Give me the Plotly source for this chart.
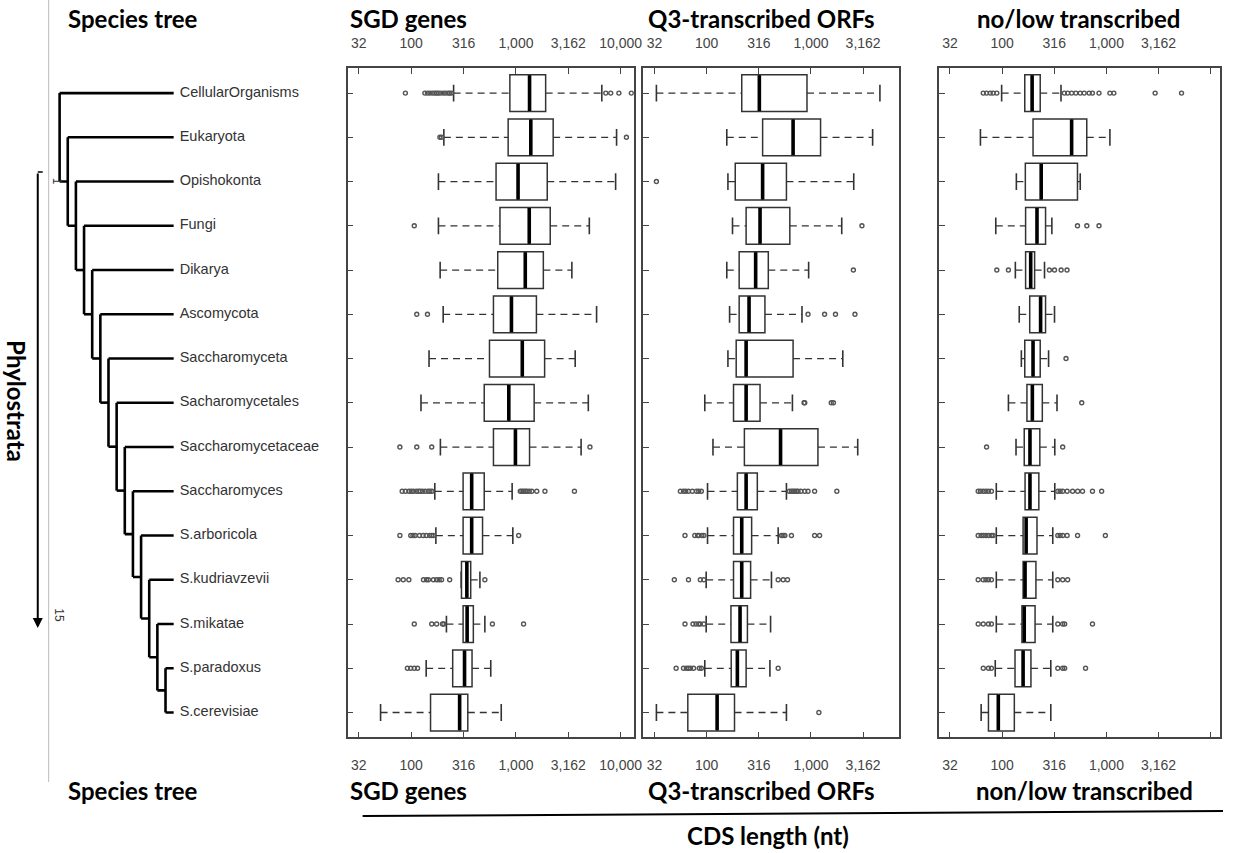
import plotly.graph_objects as go

# ---------------- data ----------------
species = ["CellularOrganisms", "Eukaryota", "Opishokonta", "Fungi", "Dikarya",
           "Ascomycota", "Saccharomyceta", "Sacharomycetales", "Saccharomycetaceae",
           "Saccharomyces", "S.arboricola", "S.kudriavzevii", "S.mikatae",
           "S.paradoxus", "S.cerevisiae"]
rows = list(range(1, 16))

tick_vals = [31.62, 100, 316.2, 1000, 3162, 10000]
tick_text = ["32", "100", "316", "1,000", "3,162", "10,000"]

# SGD genes
sgd_q1 = [875, 843, 646, 704, 670, 610, 559, 498, 610, 313, 313, 302, 313, 249, 153]
sgd_med = [1349, 1387, 1048, 1340, 1228, 906, 1150, 855, 989, 378, 378, 340, 342, 323, 290]
sgd_q3 = [1922, 2268, 1991, 2125, 1827, 1569, 1879, 1493, 1349, 498, 480, 370, 392, 381, 347]
sgd_lo = [254, 205, 182, 182, 189, 202, 148, 124, 190, 168, 172, 300, 217, 139, 51]
sgd_hi = [6607, 9140, 8950, 5020, 3420, 5890, 3680, 4910, 4190, 920, 934, 453, 505, 575, 724]
sgd_out = [
    [88, 135, 143, 151, 160, 168, 175, 181, 190, 202, 213, 225, 233, 242, 7210, 8040, 9620, 12650],
    [188, 195, 11350], [], [107], [], [113, 143], [], [],
    [78, 113, 157, 5090],
    [82, 88, 95, 100, 105, 112, 118, 122, 128, 136, 145, 151, 158,
     1100, 1140, 1183, 1230, 1273, 1340, 1418, 1581, 1893, 3620],
    [78, 99, 104, 109, 120, 130, 139, 150, 157, 163, 1062],
    [75, 84, 95, 131, 140, 146, 163, 175, 185, 195, 233, 505],
    [107, 157, 175, 199, 205, 596, 1183],
    [92, 99, 107, 115], []]

# Q3-transcribed ORFs
q3t_q1 = [217, 344, 188, 239, 205, 205, 192, 181, 230, 197, 181, 181, 171, 172, 66]
q3t_med = [320, 674, 344, 325, 295, 255, 239, 239, 511, 239, 217, 217, 209, 197, 126]
q3t_q3 = [916, 1236, 582, 627, 390, 362, 674, 325, 1166, 306, 270, 264, 246, 239, 185]
q3t_lo = [33, 156, 160, 177, 156, 166, 160, 96, 115, 102, 102, 99, 99, 96, 33]
q3t_hi = [4580, 3900, 2570, 1972, 950, 820, 2018, 664, 2806, 582, 485, 418, 410, 404, 582]
q3t_out = [
    [], [], [33], [3080], [2550], [937, 1350, 1718, 2640], [], [859, 872, 1565, 1642], [],
    [56, 60, 63, 67, 73, 80, 84, 89, 620, 650, 675, 700, 725, 752, 800, 871, 937, 1084, 1770],
    [62, 77, 82, 84, 90, 94, 522, 540, 562, 650, 1084, 1210],
    [49, 67, 87, 94, 485, 542, 596],
    [62, 74, 79, 84, 87, 94],
    [51, 60, 64, 67, 70, 75, 85, 89, 485],
    [1191]]

# no/low transcribed
nl_q1 = [165, 198, 167, 168, 168, 184, 165, 173, 163, 166, 159, 159, 155, 133, 74]
nl_med = [194, 464, 237, 216, 188, 234, 198, 195, 185, 185, 170, 166, 163, 159, 92]
nl_q3 = [232, 648, 528, 261, 205, 261, 232, 243, 230, 225, 216, 211, 207, 189, 131]
nl_lo = [99, 62, 137, 87, 134, 146, 153, 115, 136, 88, 88, 88, 88, 86, 63]
nl_hi = [367, 1080, 561, 300, 255, 318, 279, 336, 320, 320, 306, 306, 306, 293, 293]
nl_out = [
    [66, 71, 77, 82, 89, 395, 425, 464, 509, 561, 612, 683, 734, 849, 1080, 1178, 2930, 5250],
    [], [], [528, 649, 849], [89, 115, 284, 318, 368, 419], [], [410], [580],
    [71, 381],
    [59, 62, 66, 70, 74, 79, 342, 360, 381, 420, 474, 530, 590, 735, 900],
    [59, 63, 66, 70, 74, 79, 82, 342, 360, 381, 420, 529, 977],
    [59, 66, 70, 74, 79, 342, 381, 425],
    [59, 66, 74, 79, 342, 381, 398, 735],
    [66, 74, 79, 342, 381, 398, 631],
    []]

# ---------------- layout constants (pixels) ----------------
W, H = 1233, 853
def px(x): return x / W
def py(y): return 1 - y / H

y_dom = [py(737.3), py(68.3)]
y_rng = [15.56, 0.44]

panels = [
    dict(q1=sgd_q1, med=sgd_med, q3=sgd_q3, lo=sgd_lo, hi=sgd_hi, out=sgd_out,
         dom=[350, 638], rng=[1.394, 4.126], nt=6, labels=tick_text),
    dict(q1=q3t_q1, med=q3t_med, q3=q3t_q3, lo=q3t_lo, hi=q3t_hi, out=q3t_out,
         dom=[647.3, 905], rng=[1.391, 3.845], nt=5, labels=tick_text[:5]),
    dict(q1=nl_q1, med=nl_med, q3=nl_q3, lo=nl_lo, hi=nl_hi, out=nl_out,
         dom=[945, 1228], rng=[1.394, 4.089], nt=6, labels=tick_text[:5] + [""]),
]

INK = "#333333"
fig = go.Figure()
layout = dict(width=W, height=H, autosize=False, margin=dict(l=0, r=0, t=0, b=0),
              plot_bgcolor="white", paper_bgcolor="white", showlegend=False)

tick_font = dict(family="Liberation Sans, Arial", size=14, color="#444444")

for i, p in enumerate(panels):
    xa = "x" if i == 0 else f"x{i+1}"
    ya = "y" if i == 0 else f"y{i+1}"
    xtop = f"x{i+4}"
    # whiskers (dashed)
    wx, wy = [], []
    for r, lo, q1, q3, hi in zip(rows, p["lo"], p["q1"], p["q3"], p["hi"]):
        wx += [lo, q1, None, q3, hi, None]
        wy += [r, r, None, r, r, None]
    fig.add_trace(go.Scatter(x=wx, y=wy, mode="lines", xaxis=xa, yaxis=ya,
                             line=dict(color=INK, width=1.3, dash="7px,5px"), hoverinfo="skip"))
    # staples
    fig.add_trace(go.Scatter(x=p["lo"] + p["hi"], y=rows + rows, mode="markers", xaxis=xa, yaxis=ya,
                             marker=dict(symbol="line-ns", size=12, color=INK,
                                         line=dict(color=INK, width=1.6)),
                             hoverinfo="skip"))
    # boxes
    fig.add_trace(go.Box(y=rows, q1=p["q1"], median=p["med"], q3=p["q3"],
                         lowerfence=p["q1"], upperfence=p["q3"], orientation="h",
                         width=0.83, whiskerwidth=0, boxpoints=False, fillcolor="white",
                         line=dict(color=INK, width=1.5), xaxis=xa, yaxis=ya, hoverinfo="skip"))
    # medians (thick)
    fig.add_trace(go.Scatter(x=p["med"], y=rows, mode="markers", xaxis=xa, yaxis=ya,
                             marker=dict(symbol="line-ns", size=25.5, color="black",
                                         line=dict(color="black", width=3.6)),
                             hoverinfo="skip"))
    # outliers
    ox, oy = [], []
    for r, outs in zip(rows, p["out"]):
        ox += outs
        oy += [r] * len(outs)
    fig.add_trace(go.Scatter(x=ox, y=oy, mode="markers", xaxis=xa, yaxis=ya,
                             marker=dict(symbol="circle-open", size=4, color="#555555",
                                         line=dict(color="#555555", width=1.4)),
                             hoverinfo="skip"))
    # dummy for top axis
    fig.add_trace(go.Scatter(x=[None], y=[None], xaxis=xtop, yaxis=ya, hoverinfo="skip"))

    common = dict(type="log", range=p["rng"], domain=[px(p["dom"][0]), px(p["dom"][1])],
                  tickvals=tick_vals[:p["nt"]], ticktext=p["labels"], ticks="inside", ticklen=6,
                  tickcolor="#444444", tickwidth=1.3, tickfont=tick_font, showgrid=False,
                  zeroline=False, fixedrange=True)
    layout["xaxis" if i == 0 else f"xaxis{i+1}"] = dict(
        common, anchor=ya, side="bottom", showline=True, mirror=True,
        linecolor="#444444", linewidth=1.5, ticklabelstandoff=14)
    layout[f"xaxis{i+4}"] = dict(common, anchor=ya, side="top", overlaying=xa, showline=False,
                                 ticklabelstandoff=17)
    layout["yaxis" if i == 0 else f"yaxis{i+1}"] = dict(
        domain=y_dom, range=y_rng, anchor=xa, tickvals=rows, showticklabels=False,
        ticks="inside", ticklen=6, tickcolor="#444444", tickwidth=1.3, showline=True,
        mirror=True, linecolor="#444444", linewidth=1.5, showgrid=False, zeroline=False,
        fixedrange=True)

# ---------------- species tree ----------------
n = len(species)
node_y = {n - 1: (n - 1 + n) / 2}
for k in range(n - 2, 0, -1):
    node_y[k] = (k + node_y[k + 1]) / 2
tx, ty = [], []
for k in range(1, n):
    child_y = node_y[k + 1] if k + 1 < n else n
    tx += [k, k, None]
    ty += [k, child_y, None]
    tx += [k, n, None]
    ty += [k, k, None]
    if k + 1 < n:
        tx += [k, k + 1, None]
        ty += [node_y[k + 1], node_y[k + 1], None]
tx += [n - 1, n, None]
ty += [n, n, None]
fig.add_trace(go.Scatter(x=tx, y=ty, mode="lines", xaxis="x7", yaxis="y4",
                         line=dict(color="black", width=2.6), hoverinfo="skip"))
fig.add_trace(go.Scatter(x=[n] * n, y=rows, mode="markers+text", text=species,
                         textposition="middle right",
                         marker=dict(size=8, opacity=0),
                         textfont=dict(family="Liberation Sans, Arial", size=14.5, color=INK),
                         xaxis="x7", yaxis="y4", hoverinfo="skip", cliponaxis=False))
step = 8.2
layout["xaxis7"] = dict(domain=[0, px(345)], range=[1 - 60 / step, 1 + 285 / step],
                        visible=False, anchor="y4", fixedrange=True)
layout["yaxis4"] = dict(domain=y_dom, range=y_rng, visible=False, anchor="x7", fixedrange=True)

# ---------------- annotations ----------------
hfont = dict(family="Lato", size=24, color="black")
ann = []
def header(text, x, y):
    ann.append(dict(text=f"<b>{text}</b>", x=px(x), y=py(y), xref="paper", yref="paper",
                    xanchor="left", yanchor="middle", showarrow=False, font=hfont))
header("Species tree", 66, 18)
header("SGD genes", 350, 18)
header("Q3-transcribed ORFs", 650, 18)
header("no/low transcribed", 981, 18)
header("Species tree", 66, 790)
header("SGD genes", 350, 790)
header("Q3-transcribed ORFs", 650, 790)
header("non/low transcribed", 980, 790)
ann.append(dict(text="<b>CDS length (nt)</b>", x=px(773), y=py(835), xref="paper", yref="paper",
                xanchor="center", yanchor="middle", showarrow=False, font=hfont))
ann.append(dict(text="<b>Phylostrata</b>", x=px(17), y=py(401), xref="paper", yref="paper",
                xanchor="center", yanchor="middle", showarrow=False, textangle=90, font=hfont))
ann.append(dict(text="", x=px(38), y=py(628), xref="paper", yref="paper", showarrow=True,
                ax=0, ay=-456, arrowhead=2, arrowsize=1, arrowwidth=2, arrowcolor="black"))
sfont = dict(family="Liberation Sans, Arial", size=12, color=INK)
ann.append(dict(text="1", x=px(48), y=py(176), xref="paper", yref="paper", showarrow=False,
                textangle=90, font=sfont))
ann.append(dict(text="15", x=px(50), y=py(624), xref="paper", yref="paper", showarrow=False,
                textangle=90, font=sfont))
layout["annotations"] = ann
layout["shapes"] = [
    dict(type="line", xref="paper", yref="paper", x0=px(49), x1=px(49), y0=py(0), y1=py(782),
         line=dict(color="#bbbbbb", width=1)),
    dict(type="line", xref="paper", yref="paper", x0=px(365), x1=px(1231), y0=py(816), y1=py(811),
         line=dict(color="black", width=2)),
    dict(type="line", xref="paper", yref="paper", x0=px(38), x1=px(43), y0=py(172), y1=py(172),
         line=dict(color="black", width=1.5)),
]
fig.update_layout(**layout)
fig.write_html("out.html", config={"displayModeBar": False, "responsive": False},
               post_script="document.body.style.margin='0';document.body.style.overflow='hidden';")
